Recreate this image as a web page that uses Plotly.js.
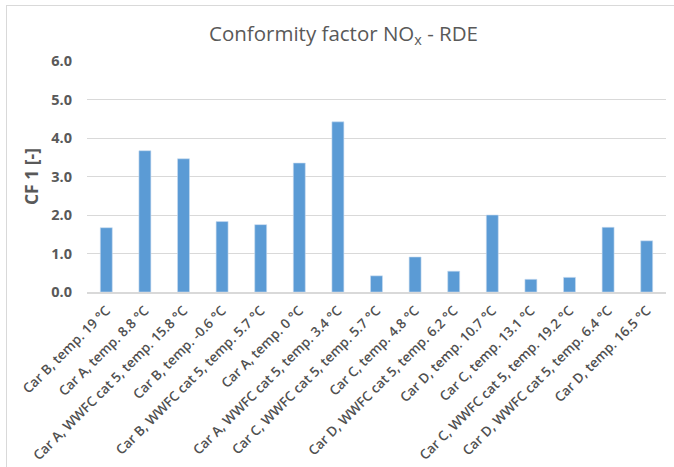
<!DOCTYPE html>
<html>
<head>
<meta charset="utf-8">
<script src="https://cdn.plot.ly/plotly-3.0.1.min.js"></script>
<style>
html,body{margin:0;padding:0;background:#fff;}
#wrap{position:relative;width:674px;height:467px;}
#chart{position:absolute;left:0;top:0;width:674px;height:467px;}
#frame{position:absolute;left:6px;top:5px;width:680px;height:480px;border-left:1px solid #d9d9d9;border-top:1px solid #d9d9d9;pointer-events:none;}
</style>
</head>
<body>
<div id="wrap"><div id="chart"></div><div id="frame"></div></div>
<script>
const categories = [
  "Car B, temp. 19 °C",
  "Car A, temp. 8.8 °C",
  "Car A, WWFC cat 5, temp. 15.8 °C",
  "Car B, temp. -0.6 °C",
  "Car B, WWFC cat 5, temp. 5.7 °C",
  "Car A, temp. 0 °C",
  "Car A, WWFC cat 5, temp. 3.4 °C",
  "Car C, WWFC cat 5, temp. 5.7 °C",
  "Car C, temp. 4.8 °C",
  "Car D, WWFC cat 5, temp. 6.2 °C",
  "Car D, temp. 10.7 °C",
  "Car C, temp. 13.1 °C",
  "Car C, WWFC cat 5, temp. 19.2 °C",
  "Car D, WWFC cat 5, temp. 6.4 °C",
  "Car D, temp. 16.5 °C"
];
const cfValues = [1.67, 3.67, 3.46, 1.83, 1.75, 3.35, 4.42, 0.42, 0.91, 0.54, 2.00, 0.33, 0.38, 1.68, 1.33];
const yTickVals = [0, 1, 2, 3, 4, 5, 6];
const yTickText = ["0.0", "1.0", "2.0", "3.0", "4.0", "5.0", "6.0"];

const trace = {
  type: "bar",
  x: categories,
  y: cfValues,
  marker: {color: "#5b9bd5", line: {color: "#c9dcf0", width: 0.6}},
  hoverinfo: "x+y"
};

const layout = {
  width: 674,
  height: 467,
  paper_bgcolor: "#ffffff",
  plot_bgcolor: "#ffffff",
  margin: {l: 87, r: 8, t: 61, b: 174.5, pad: 0},
  bargap: 0.69,
  showlegend: false,
  font: {family: "Open Sans, sans-serif", color: "#595959"},
  title: {
    text: "Conformity factor NO<sub>x</sub> - RDE",
    font: {family: "Open Sans, sans-serif", size: 20.5, color: "#595959"},
    x: 343.5/674, xanchor: "center",
    y: 1 - 34/467, yanchor: "middle", yref: "container"
  },
  xaxis: {
    type: "category",
    tickangle: -45,
    tickfont: {size: 13.5, color: "#505050", family: "Open Sans, sans-serif", weight: 600},
    showgrid: false,
    showline: true,
    linecolor: "#d9d9d9",
    linewidth: 1.5,
    ticks: "",
    ticklabelstandoff: 4,
    zeroline: false,
    fixedrange: true
  },
  yaxis: {
    range: [0, 6],
    tickvals: yTickVals,
    ticktext: yTickText,
    tickfont: {size: 14.5, color: "#595959", family: "Open Sans, sans-serif", weight: "bold"},
    showgrid: true,
    gridcolor: "#d9d9d9",
    gridwidth: 1,
    zeroline: false,
    showline: false,
    ticks: "",
    ticklabelstandoff: 14,
    title: {
      text: "CF 1 [-]",
      font: {size: 17.5, color: "#595959", family: "Open Sans, sans-serif", weight: "bold"},
      standoff: 8
    },
    fixedrange: true
  }
};

Plotly.newPlot("chart", [trace], layout, {displayModeBar: false, staticPlot: true});
</script>
</body>
</html>
